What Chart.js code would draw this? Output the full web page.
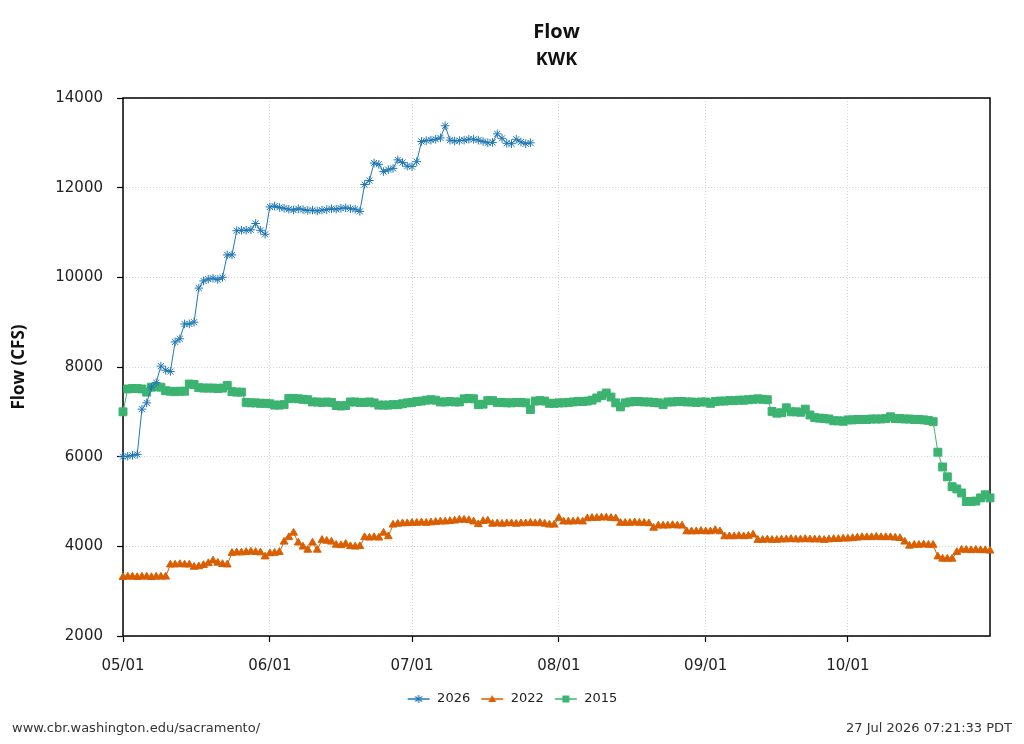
<!DOCTYPE html>
<html><head><meta charset="utf-8">
<script src="https://cdn.jsdelivr.net/npm/chart.js@4.4.1/dist/chart.umd.min.js"></script>
<style>html,body{margin:0;padding:0;background:#fff}canvas{display:block}</style>
</head><body>
<canvas id="c" width="1024" height="744"></canvas>
<script>
// ---- data (day index 0 = 05/01) ----
const seriesNames = ['2026', '2022', '2015'];
const xTickDays = [0, 31, 61, 92, 123, 153];
const xTickLabels = ['05/01', '06/01', '07/01', '08/01', '09/01', '10/01'];
const yTicks = [2000, 4000, 6000, 8000, 10000, 12000, 14000];
const chartTitle = 'Flow';
const chartSubtitle = 'KWK';
const yAxisTitle = 'Flow (CFS)';
const footerLeft = 'www.cbr.washington.edu/sacramento/';
const footerRight = '27 Jul 2026 07:21:33 PDT';

const flow2026 = [
  6000, 6010, 6030, 6050, 7060, 7200, 7550, 7650, 8020, 7930,          // d0-9
  7900, 8560, 8630, 8960, 8960, 9000, 9760, 9920, 9960, 9980,          // d10-19
  9950, 10000, 10500, 10500, 11040, 11050, 11050, 11060, 11200, 11050, // d20-29
  10960, 11570, 11590, 11560, 11540, 11520, 11500, 11530, 11510, 11490, // d30-39
  11500, 11480, 11500, 11510, 11530, 11520, 11540, 11550, 11530, 11520, // d40-49
  11470, 12070, 12160, 12550, 12520, 12360, 12400, 12430, 12620, 12560, // d50-59
  12480, 12470, 12580, 13030, 13050, 13060, 13080, 13110, 13380, 13060, // d60-69
  13040, 13050, 13060, 13080, 13080, 13060, 13030, 13000, 13010, 13200, // d70-79
  13100, 12990, 12980, 13080, 13020, 12980, 13000                       // d80-86
];

const flow2022 = [
  3310, 3320, 3320, 3310, 3320, 3320, 3310, 3320, 3320, 3320,  // d0-9
  3590, 3590, 3600, 3590, 3590, 3540, 3550, 3580, 3620, 3680,  // d10-19
  3630, 3600, 3590, 3850, 3860, 3860, 3870, 3880, 3870, 3860,  // d20-29
  3770, 3840, 3850, 3870, 4100, 4200, 4300, 4080, 3990, 3920,  // d30-39
  4080, 3920, 4140, 4120, 4100, 4030, 4020, 4050, 4000, 3990,  // d40-49
  4000, 4200, 4190, 4200, 4190, 4300, 4220, 4480, 4500, 4510,  // d50-59
  4510, 4520, 4520, 4530, 4520, 4530, 4540, 4550, 4550, 4560,  // d60-69
  4570, 4590, 4590, 4580, 4550, 4490, 4560, 4570, 4500, 4510,  // d70-79
  4500, 4510, 4510, 4500, 4510, 4510, 4520, 4510, 4520, 4500,  // d80-89
  4480, 4480, 4630, 4550, 4550, 4550, 4560, 4550, 4620, 4630,  // d90-99
  4630, 4640, 4640, 4630, 4620, 4520, 4520, 4520, 4530, 4520,  // d100-109
  4520, 4510, 4410, 4460, 4460, 4460, 4470, 4460, 4460, 4330,  // d110-119
  4330, 4330, 4340, 4330, 4330, 4360, 4330, 4220, 4220, 4220,  // d120-129
  4230, 4220, 4230, 4260, 4140, 4140, 4150, 4140, 4140, 4150,  // d130-139
  4150, 4160, 4150, 4150, 4160, 4150, 4150, 4150, 4140, 4150,  // d140-149
  4160, 4160, 4170, 4170, 4180, 4190, 4200, 4200, 4200, 4210,  // d150-159
  4200, 4200, 4200, 4190, 4180, 4100, 4010, 4030, 4030, 4040,  // d160-169
  4030, 4030, 3770, 3720, 3720, 3720, 3870, 3920, 3920, 3910,  // d170-179
  3920, 3910, 3910, 3900                                        // d180-183
];

const flow2015 = [
  7000, 7510, 7520, 7520, 7510, 7440, 7550, 7560, 7550, 7470,  // d0-9
  7460, 7450, 7460, 7460, 7620, 7610, 7540, 7530, 7530, 7530,  // d10-19
  7520, 7530, 7590, 7450, 7440, 7440, 7210, 7200, 7200, 7190,  // d20-29
  7190, 7180, 7150, 7150, 7160, 7300, 7300, 7290, 7280, 7270,  // d30-39
  7220, 7220, 7210, 7220, 7210, 7140, 7130, 7140, 7220, 7220,  // d40-49
  7210, 7210, 7220, 7200, 7150, 7150, 7150, 7160, 7160, 7180,  // d50-59
  7200, 7210, 7230, 7240, 7260, 7270, 7260, 7220, 7220, 7230,  // d60-69
  7220, 7220, 7290, 7300, 7290, 7160, 7170, 7250, 7250, 7210,  // d70-79
  7210, 7200, 7200, 7210, 7210, 7200, 7050, 7240, 7250, 7240,  // d80-89
  7190, 7190, 7200, 7200, 7210, 7220, 7230, 7230, 7240, 7260,  // d90-99
  7310, 7360, 7420, 7330, 7200, 7110, 7200, 7220, 7230, 7230,  // d100-109
  7220, 7220, 7210, 7200, 7160, 7220, 7220, 7230, 7230, 7220,  // d110-119
  7220, 7210, 7220, 7220, 7190, 7230, 7240, 7240, 7250, 7250,  // d120-129
  7260, 7260, 7270, 7280, 7290, 7280, 7270, 7010, 6970, 6980,  // d130-139
  7090, 7000, 7000, 6990, 7060, 6930, 6870, 6860, 6850, 6840,  // d140-149
  6800, 6800, 6790, 6820, 6820, 6830, 6830, 6830, 6840, 6840,  // d150-159
  6840, 6850, 6890, 6850, 6850, 6840, 6840, 6830, 6830, 6820,  // d160-169
  6810, 6780, 6100, 5770, 5550, 5330, 5280, 5190, 5000, 5000,  // d170-179
  5010, 5080, 5150, 5080                                        // d180-183
];

const seriesValues = [flow2026, flow2022, flow2015];
const seriesColors = ['#1f77b4', '#d95f02', '#3cb371'];
const seriesMarkers = ['star', 'triangle', 'rect'];
const seriesRadius = [4.3, 4.5, 5.6];

// ---- helpers ----
const toPts = arr => arr.map((v, i) => ({ x: i, y: v }));

function makeIcon(color, style) {
  const cv = document.createElement('canvas');
  cv.width = 24; cv.height = 12;
  const g = cv.getContext('2d');
  g.strokeStyle = color; g.fillStyle = color; g.lineWidth = 1.5;
  g.beginPath(); g.moveTo(1, 6); g.lineTo(23, 6); g.stroke();
  g.lineWidth = 1.2;
  if (style === 'star') {
    g.beginPath();
    g.moveTo(12, 2); g.lineTo(12, 10);
    g.moveTo(8.5, 3.5); g.lineTo(15.5, 8.5);
    g.moveTo(15.5, 3.5); g.lineTo(8.5, 8.5);
    g.stroke();
  } else if (style === 'triangle') {
    g.beginPath(); g.moveTo(12, 2); g.lineTo(16, 9); g.lineTo(8, 9); g.closePath(); g.fill();
  } else {
    g.fillRect(8.5, 2.5, 7, 7);
  }
  return cv;
}
const icons = seriesColors.map((c, i) => makeIcon(c, seriesMarkers[i]));

const datasets = seriesNames.map((name, i) => ({
  label: name,
  data: toPts(seriesValues[i]),
  borderColor: seriesColors[i],
  backgroundColor: seriesColors[i],
  borderWidth: 1,
  pointStyle: seriesMarkers[i],
  pointRadius: seriesRadius[i],
  pointHoverRadius: seriesRadius[i],
  pointBorderWidth: 1,
  pointBackgroundColor: seriesColors[i],
  pointBorderColor: seriesColors[i],
  tension: 0,
  clip: false
}));

const frame = {
  id: 'frame',
  beforeDatasetsDraw(chart) {
    const { ctx, chartArea: a } = chart;
    ctx.save();
    ctx.strokeStyle = '#000'; ctx.lineWidth = 1.5;
    ctx.strokeRect(a.left, a.top, a.right - a.left, a.bottom - a.top);
    ctx.restore();
  }
};
const footer = {
  id: 'footer',
  afterDraw(chart) {
    const c = chart.ctx;
    c.save();
    c.font = '13px "DejaVu Sans"';
    c.fillStyle = '#333';
    c.textBaseline = 'middle';
    c.textAlign = 'left'; c.fillText(footerLeft, 12, 729);
    c.textAlign = 'right'; c.fillText(footerRight, 1012, 729);
    c.restore();
  }
};

const gridOpts = { color: '#d6d6d6', lineWidth: 1, tickLength: 6, tickColor: '#000', tickWidth: 1.2 };
const borderOpts = { display: false, dash: [1, 2] };
const tickFont = { family: 'DejaVu Sans', size: 15 };

new Chart(document.getElementById('c'), {
  type: 'line',
  data: { datasets },
  plugins: [frame, footer],
  options: {
    responsive: false,
    animation: false,
    devicePixelRatio: 1,
    layout: { padding: { left: 0, right: 0, top: 0, bottom: 28.5 } },
    plugins: {
      title: { display: true, text: chartTitle, fullSize: false, color: '#111',
        font: { family: 'Open Sans', size: 20, weight: 'bold' }, padding: { top: 20, bottom: 4 } },
      subtitle: { display: true, text: chartSubtitle, fullSize: false, color: '#111',
        font: { family: 'Open Sans', size: 18, weight: 'bold' }, padding: { top: 1.2, bottom: 27.2 } },
      legend: {
        position: 'bottom',
        labels: {
          usePointStyle: true, pointStyleWidth: 24, padding: 10, color: '#222',
          font: { family: 'DejaVu Sans', size: 13 },
          generateLabels: () => seriesNames.map((n, i) => ({
            text: n, fillStyle: seriesColors[i], strokeStyle: seriesColors[i],
            lineWidth: 1, pointStyle: icons[i], hidden: false, datasetIndex: i, fontColor: '#222'
          }))
        }
      },
      tooltip: { enabled: false }
    },
    scales: {
      x: {
        type: 'linear', min: 0, max: 183,
        afterBuildTicks: s => { s.ticks = xTickDays.map(v => ({ value: v })); },
        afterFit: s => { s.height = 46.5; },
        ticks: { callback: v => xTickLabels[xTickDays.indexOf(v)], font: tickFont, color: '#222',
          padding: 15, maxRotation: 0, autoSkip: false },
        grid: gridOpts, border: borderOpts
      },
      y: {
        type: 'linear', min: 2000, max: 14000,
        afterBuildTicks: s => { s.ticks = yTicks.map(v => ({ value: v })); },
        afterFit: s => { s.width = 123; },
        ticks: { callback: v => String(v), font: tickFont, color: '#222', padding: 14 },
        title: { display: true, text: yAxisTitle, color: '#111',
          font: { family: 'Open Sans', size: 17, weight: 'bold' }, padding: { top: 8.8, bottom: 0 } },
        grid: gridOpts, border: borderOpts
      },
      yRight: {
        type: 'linear', position: 'right', display: true,
        afterFit: s => { s.width = 34; },
        ticks: { display: false }, grid: { display: false }, border: { display: false }
      }
    }
  }
});
</script>
</body></html>
